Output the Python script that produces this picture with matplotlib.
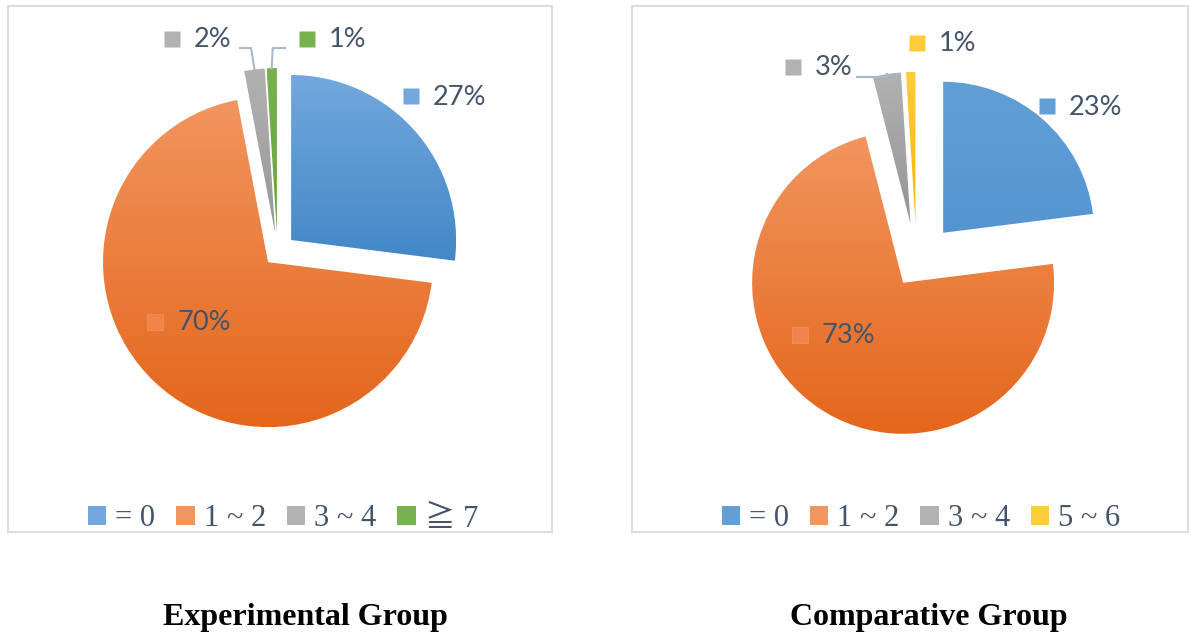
import numpy as np
import matplotlib
matplotlib.use('Agg')
import matplotlib.pyplot as plt
from matplotlib.patches import Rectangle, Patch
from matplotlib.colors import to_rgb

W, H = 1194, 637

# 数据
exp_labels = ['= 0', '1 ~ 2', '3 ~ 4', '≧ 7']
exp_values = [27, 70, 2, 1]
cmp_labels = ['= 0', '1 ~ 2', '3 ~ 4', '5 ~ 6']
cmp_values = [23, 73, 3, 1]

# 每块扇形的渐变色 (上, 下)
exp_colors = [('#72a8dd', '#4387c7'), ('#f2955f', '#e4661b'),
              ('#b2b2b2', '#989898'), ('#78b24f', '#66a33c')]
cmp_colors = [('#629fd7', '#5495d1'), ('#f2955f', '#e4661b'),
              ('#b2b2b2', '#949494'), ('#ffcd3a', '#f2b600')]

TEXT = '#44546a'
LEADER = '#a9b8cb'
LABEL_FONT = ['Lato', 'DejaVu Sans']
SERIF = ['Liberation Serif', 'Noto Sans CJK JP', 'DejaVu Serif']


def gradient(top, bottom, n=256):
    t = np.linspace(0, 1, n)[:, None]
    a, b = np.array(to_rgb(top)), np.array(to_rgb(bottom))
    return (a * (1 - t) + b * t)[:, None, :]


def draw_pie(fig, cx, cy, r, values, colors, explode, label_pos, leaders):
    ax = fig.add_axes([0, 0, 1, 1])
    wedges, _ = ax.pie(values, colors=[c[0] for c in colors], explode=explode,
                       startangle=90, counterclock=False, radius=1,
                       wedgeprops=dict(linewidth=0))
    total = sum(values)
    for w, (top, bot) in zip(wedges, colors):
        # 扇形各自的竖直范围内做渐变
        th = np.radians(np.linspace(w.theta1, w.theta2, 50))
        xs = np.r_[w.center[0], w.center[0] + w.r * np.cos(th)]
        ys = np.r_[w.center[1], w.center[1] + w.r * np.sin(th)]
        w.set_facecolor('none')
        im = ax.imshow(gradient(top, bot), aspect='auto', interpolation='bilinear',
                       extent=(xs.min(), xs.max(), ys.min(), ys.max()), zorder=1)
        im.set_clip_path(w)

    for i, (w, v) in enumerate(zip(wedges, values)):
        lx, ly = label_pos[i]
        key = colors[i][0] if i != 1 else '#f2844a'
        edge = 'none' if i != 1 else '#f38d55'
        ax.plot(lx, ly, marker='s', ms=11, color=key, mec=edge, mew=0.6, zorder=5)
        ax.annotate(f'{v / total * 100:.0f}%', (lx, ly), xytext=(22, -1),
                    textcoords='offset pixels', va='center', ha='left',
                    fontsize=19.5, color=TEXT, family=LABEL_FONT, zorder=6)
        if i in leaders:
            y_line, dx, x_end = leaders[i]
            mid = np.radians((w.theta1 + w.theta2) / 2)
            px = w.center[0] + w.r * np.cos(mid)
            py = w.center[1] + w.r * np.sin(mid)
            ax.plot([px, px + dx, x_end], [py, y_line, y_line],
                    color=LEADER, lw=1.5, zorder=4)

    ax.set_xlim((0 - cx) / r, (W - cx) / r)
    ax.set_ylim((cy - H) / r, cy / r)
    ax.set_aspect('auto')
    ax.axis('off')
    return ax


def draw_legend(fig, labels, colors, x, y):
    handles = [Patch(facecolor=c[0], edgecolor='none') for c in colors]
    fig.legend(handles, labels, loc='center', bbox_to_anchor=(x / W, 1 - y / H),
               ncol=len(labels), frameon=False, handlelength=0.6, handleheight=0.6,
               handletextpad=0.3, columnspacing=0.68, borderpad=0,
               prop=dict(family=SERIF, size=22), labelcolor=TEXT)


fig = plt.figure(figsize=(W / 100, H / 100), dpi=100)

# 外框
for x0, x1 in [(8, 552), (632, 1188)]:
    fig.add_artist(Rectangle((x0 / W, 1 - 532 / H), (x1 - x0) / W, 526 / H,
                             transform=fig.transFigure, fill=False,
                             ec='#d9dee6', lw=1.5))

draw_pie(fig, 277.5, 252, 165, exp_values, exp_colors,
         explode=[0.11, 0.084, 0.115, 0.115],
         label_pos=[(0.809, 0.945), (-0.742, -0.424), (-0.639, 1.291), (0.179, 1.291)],
         leaders={2: (1.236, -0.02, -0.227), 3: (1.236, 0.006, 0.045)})

draw_pie(fig, 916.7, 262.8, 151, cmp_values, cmp_colors,
         explode=[0.265, 0.16, 0.265, 0.265],
         label_pos=[(0.863, 1.038), (-0.773, -0.478), (-0.820, 1.297), (0.002, 1.456)],
         leaders={2: (1.23, 0.0, -0.395)})

draw_legend(fig, exp_labels, exp_colors, 283, 519)
draw_legend(fig, cmp_labels, cmp_colors, 921, 519)

fig.text(305 / W, 1 - 618 / H, 'Experimental Group', ha='center', va='center',
         fontsize=23, weight='bold', family=SERIF)
fig.text(929 / W, 1 - 618 / H, 'Comparative Group', ha='center', va='center',
         fontsize=23, weight='bold', family=SERIF)

fig.savefig('out.png', dpi=100)
